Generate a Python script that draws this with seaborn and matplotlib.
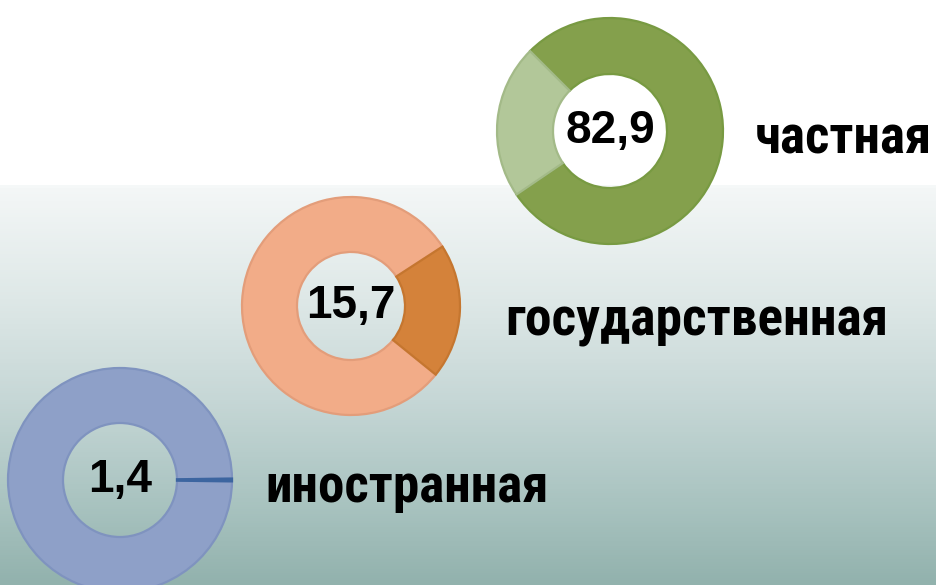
import numpy as np
import matplotlib
matplotlib.use("Agg")
import matplotlib.pyplot as plt
import seaborn as sns
from matplotlib.colors import LinearSegmentedColormap
from matplotlib import font_manager

sns.set_theme(style="white")

# ---- data ----
categories = ["частная", "государственная", "иностранная"]
value_labels = ["82,9", "15,7", "1,4"]
# visual share of the highlighted / secondary segment as drawn in the picture (%)
segment_share = [22.0, 20.0, 0.4]

W, H = 937, 585
fig = plt.figure(figsize=(W / 100, H / 100), dpi=100)
ax = fig.add_axes([0, 0, 1, 1])

# background: white top, grey-teal gradient below
stops_y = [0, 185, 186, 300, 400, 500, 585]
stops_c = [(1, 1, 1), (1, 1, 1), (244/255, 247/255, 247/255), (222/255, 232/255, 231/255),
           (198/255, 215/255, 214/255), (170/255, 196/255, 193/255), (146/255, 178/255, 173/255)]
cmap = LinearSegmentedColormap.from_list("bg", list(zip([s / H for s in stops_y], stops_c)))
grad = np.linspace(0, 1, H).reshape(-1, 1)
ax.imshow(grad, cmap=cmap, aspect="auto", extent=[0, W, 0, H], origin="upper", zorder=0)

donuts = [
    dict(cx=610, cy=131, r=113, ri=57, start=135,
         colors=["#B2C799", "#84A04C"], edge=["#A3BA88", "#789A42"]),
    dict(cx=351, cy=306, r=109, ri=54, start=-39,
         colors=["#D4823A", "#F2AC88"], edge=["#C5762F", "#E39D7A"]),
    dict(cx=120, cy=480, r=112, ri=57, start=-0.7,
         colors=["#3C65A0", "#8EA0C8"], edge=["#3C65A0", "#7F93BF"]),
]

for d, share in zip(donuts, segment_share):
    vals = [share, 100 - share]
    wedges, _ = ax.pie(vals, colors=d["colors"], startangle=d["start"], counterclock=True,
                       radius=d["r"], center=(d["cx"], H - d["cy"]), frame=True,
                       wedgeprops=dict(width=d["r"] - d["ri"], linewidth=1.6))
    for w, ec in zip(wedges, d["edge"]):
        w.set_edgecolor(ec)
        w.set_zorder(2)
    wedges[0].set_zorder(3)

ax.set_xlim(0, W)
ax.set_ylim(0, H)
ax.set_aspect("equal")
ax.axis("off")

# pick a condensed bold family if available
names = {f.name for f in font_manager.fontManager.ttflist}
cond_family = None
for cand in ["Roboto Condensed", "Liberation Sans Narrow", "DejaVu Sans Condensed",
             "Open Sans Condensed", "Noto Sans Condensed", "Arial Narrow"]:
    if cand in names:
        cond_family = cand
        break
cond_stretch = "normal"
if cond_family is None:
    # DejaVu condensed faces are registered under "DejaVu Sans" with condensed stretch
    for f in font_manager.fontManager.ttflist:
        if "Condensed" in f.fname or "Narrow" in f.fname:
            cond_family = f.name
            cond_stretch = "condensed"
            break
if cond_family is None:
    cond_family = "Roboto"

num_font = dict(family=["Liberation Sans", "DejaVu Sans"], weight="bold", size=33, color="black")

num_base = [143, 318, 492]
for d, txt, by in zip(donuts, value_labels, num_base):
    ax.text(d["cx"], H - by, txt, ha="center", va="baseline", zorder=5, **num_font)

lab_pos = [(755, 153), (505, 335), (265, 502)]
lab_width = [177, 383, 283]
renderer = fig.canvas.get_renderer()
for (lx, ly), txt, tw in zip(lab_pos, categories, lab_width):
    t = ax.text(lx, H - ly, txt, ha="left", va="baseline", zorder=5,
                family=[cond_family, "DejaVu Sans"], weight="bold", stretch=cond_stretch,
                size=40, color="black")
    wpx = t.get_window_extent(renderer).width
    t.set_fontsize(min(44, 40 * tw / wpx))

fig.savefig("out.png", dpi=100)
